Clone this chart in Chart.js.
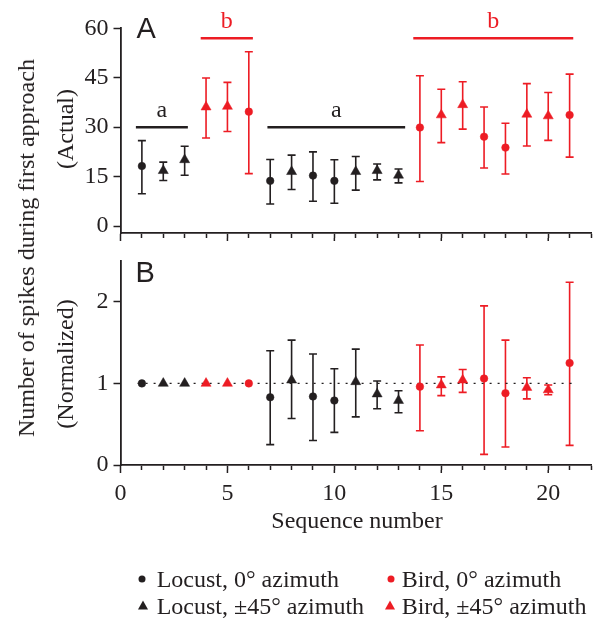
<!DOCTYPE html>
<html>
<head>
<meta charset="utf-8">
<script src="https://cdn.jsdelivr.net/npm/chart.js@4.4.0/dist/chart.umd.min.js"></script>
<style>
body{margin:0;background:#fff;}
#wrap{position:relative;width:600px;height:619px;overflow:hidden;font-family:"Liberation Serif","Times New Roman",serif;color:#231f20;}
canvas{position:absolute;left:0;}
.t{position:absolute;font-size:24px;line-height:24px;white-space:nowrap;}
.mid{transform:translate(-50%,-50%);}
.rot{transform:translate(-50%,-50%) rotate(-90deg);}
.panel{position:absolute;font-family:"Liberation Sans",Arial,sans-serif;font-size:29px;line-height:29px;}
.dot{position:absolute;width:7px;height:7px;border-radius:50%;transform:translate(-50%,-50%);}
.tri{position:absolute;width:0;height:0;border-left:5px solid transparent;border-right:5px solid transparent;border-bottom:9px solid;transform:translate(-50%,-50%);}
</style>
</head>
<body>
<div id="wrap">
  <canvas id="chartA" width="600" height="262" style="top:0"></canvas>
  <canvas id="chartB" width="600" height="300" style="top:240px"></canvas>

  <div class="t rot" style="left:25.8px;top:248.4px">Number of spikes during first approach</div>
  <div class="t rot" style="left:64.6px;top:129px">(Actual)</div>
  <div class="t rot" style="left:64.6px;top:364px">(Normalized)</div>
  <div class="t mid" style="left:357px;top:519.5px">Sequence number</div>
  <div class="panel" style="left:136.5px;top:13.8px">A</div>
  <div class="panel" style="left:135.5px;top:257.8px">B</div>

  <div class="dot" style="left:142.3px;top:578.5px;background:#231f20"></div>
  <div class="t" style="left:156.7px;top:566.6px">Locust, 0° azimuth</div>
  <div class="tri" style="left:143px;top:605px;border-bottom-color:#231f20"></div>
  <div class="t" style="left:156.7px;top:594.2px">Locust, ±45° azimuth</div>
  <div class="dot" style="left:390.7px;top:578.5px;background:#ed1c24"></div>
  <div class="t" style="left:401.7px;top:566.6px">Bird, 0° azimuth</div>
  <div class="tri" style="left:390px;top:605px;border-bottom-color:#ed1c24"></div>
  <div class="t" style="left:401.7px;top:594.2px">Bird, ±45° azimuth</div>
</div>
<script>
// data
const seq = [1,2,3,4,5,6,7,8,9,10,11,12,13,14,15,16,17,18,19,20,21];
const group = ['L0','L45','L45','B45','B45','B0','L0','L45','L0','L0','L45','L45','L45','B0','B45','B45','B0','B0','B45','B45','B0'];

const actualMean = [18.2,16.8,20.1,36.1,36.3,34.7,13.7,16.5,15.3,13.7,16.5,16.8,15.4,29.9,33.7,36.8,27.1,23.8,33.9,33.4,33.7];
const actualLow  = [9.8,13.8,15.4,26.7,28.7,15.9,6.7,11.1,7.5,6.9,10.9,14.0,13.1,13.5,25.3,29.4,17.6,15.8,24.3,26.0,20.9];
const actualHigh = [25.9,19.4,24.2,44.9,43.6,52.9,20.2,21.5,22.5,20.1,21.1,18.8,17.3,45.6,41.5,43.8,36.1,31.2,43.2,40.5,46.1];

const normMean = [1,1,1,1,1,1,0.83,1.04,0.84,0.79,1.02,0.87,0.79,0.96,0.98,1.04,1.06,0.88,0.95,0.92,1.25];
const normLow  = [1,1,1,1,1,1,0.25,0.57,0.30,0.40,0.59,0.69,0.64,0.42,0.85,0.89,0.13,0.22,0.81,0.86,0.24];
const normHigh = [1,1,1,1,1,1,1.40,1.53,1.36,1.18,1.42,1.03,0.91,1.47,1.08,1.17,1.95,1.53,1.07,0.98,2.24];

const groupKeys = ['L0','L45','B0','B45'];
const groupNames = ['Locust, 0° azimuth','Locust, ±45° azimuth','Bird, 0° azimuth','Bird, ±45° azimuth'];

// significance brackets in panel A
const bracketFrom  = [0.72, 3.75, 6.87, 13.69];
const bracketTo    = [3.15, 6.19, 13.31, 21.17];
const bracketLevel = [30, 57, 30, 57];
const bracketText  = ['a','b','a','b'];

const yTicksA = [0,15,30,45,60];
const yTicksB = [0,1,2];
const xTickLabels = [0,5,10,15,20];
const refLevel = 1, refFrom = 0.8, refTo = 21.3;

const ink = '#231f20';
const red = '#ed1c24';
const serif = 'Liberation Serif';
const xTicks = [];
for (let i = 0; i <= 22; i++) xTicks.push(i);

function colorOf(g){ return g[0] === 'B' ? red : ink; }
function styleOf(g){ return g.endsWith('45') ? 'triangle' : 'circle'; }

function groupSets(mean, low, high){
  return groupKeys.map((g, k) => ({
    label: groupNames[k],
    err: true,
    data: seq.map((s, i) => ({x: s, y: mean[i], lo: low[i], hi: high[i], g: group[i]})).filter(p => p.g === g),
    pointStyle: styleOf(g),
    pointRadius: styleOf(g) === 'triangle' ? 5.8 : 3.8,
    pointBorderWidth: 0.5,
    backgroundColor: colorOf(g),
    borderColor: colorOf(g),
    clip: false
  }));
}

const errorBars = {
  id: 'errorBars',
  beforeDatasetsDraw(chart){
    const {ctx, scales: {x, y}} = chart;
    chart.data.datasets.forEach(ds => {
      if (!ds.err) return;
      ctx.save();
      ctx.strokeStyle = ds.borderColor;
      ctx.lineWidth = 1.6;
      ds.data.forEach(p => {
        if (p.hi === p.lo) return;
        const px = x.getPixelForValue(p.x);
        const top = y.getPixelForValue(p.hi), bot = y.getPixelForValue(p.lo);
        ctx.beginPath();
        ctx.moveTo(px, top); ctx.lineTo(px, bot);
        ctx.moveTo(px - 4, top); ctx.lineTo(px + 4, top);
        ctx.moveTo(px - 4, bot); ctx.lineTo(px + 4, bot);
        ctx.stroke();
      });
      ctx.restore();
    });
  }
};

// longer tick marks at 0, 5, 10 ...
const majorTicks = {
  id: 'majorTicks',
  afterDraw(chart){
    const {ctx, scales: {x}} = chart;
    ctx.save();
    ctx.strokeStyle = ink;
    ctx.lineWidth = 1.5;
    xTickLabels.forEach(v => {
      const px = x.getPixelForValue(v);
      ctx.beginPath();
      ctx.moveTo(px, x.top + 5); ctx.lineTo(px, x.top + 8);
      ctx.stroke();
    });
    ctx.restore();
  }
};

const bracketLabels = {
  id: 'bracketLabels',
  afterDatasetsDraw(chart){
    const {ctx, scales: {x, y}} = chart;
    ctx.save();
    ctx.font = '24px "' + serif + '"';
    ctx.textAlign = 'center';
    ctx.textBaseline = 'alphabetic';
    bracketText.forEach((t, i) => {
      ctx.fillStyle = t === 'b' ? red : ink;
      const cx = x.getPixelForValue((bracketFrom[i] + bracketTo[i]) / 2);
      ctx.fillText(t, cx, y.getPixelForValue(bracketLevel[i]) - 10);
    });
    ctx.restore();
  }
};

function scales(yMin, yMax, yTicks, xHeight, showX){
  return {
    x: {
      type: 'linear', min: 0, max: 22,
      afterBuildTicks: s => { s.ticks = xTicks.map(v => ({value: v})); },
      afterFit: s => { s.height = xHeight; },
      grid: {drawOnChartArea: false, drawTicks: true, tickLength: 5, tickColor: ink, tickWidth: 1.5},
      border: {color: ink, width: 1.8},
      ticks: {autoSkip: false, maxRotation: 0, padding: 9, color: ink, font: {family: serif, size: 24},
        callback: v => (showX && xTickLabels.includes(v)) ? String(v) : ''}
    },
    y: {
      type: 'linear', min: yMin, max: yMax,
      afterBuildTicks: s => { s.ticks = yTicks.map(v => ({value: v})); },
      afterFit: s => { s.width = 120.5; },
      grid: {drawOnChartArea: false, drawTicks: true, tickLength: 7, tickColor: ink, tickWidth: 1.5},
      border: {color: ink, width: 1.8},
      ticks: {padding: 5, color: ink, font: {family: serif, size: 24}}
    }
  };
}

const common = {
  responsive: false,
  animation: false,
  events: [],
  plugins: {legend: {display: false}, tooltip: {enabled: false}}
};

function draw(){
  // panel A
  const setsA = groupSets(actualMean, actualLow, actualHigh);
  bracketFrom.forEach((f, i) => {
    setsA.push({
      type: 'line',
      data: [{x: f, y: bracketLevel[i]}, {x: bracketTo[i], y: bracketLevel[i]}],
      borderColor: bracketText[i] === 'b' ? red : ink,
      borderWidth: 2.5,
      pointRadius: 0,
      showLine: true,
      clip: false
    });
  });
  new Chart(document.getElementById('chartA'), {
    type: 'scatter',
    data: {datasets: setsA},
    options: Object.assign({}, common, {
      layout: {padding: {top: 28.3, right: 3.6, bottom: 0, left: 0}},
      scales: scales(-2.12, 60, yTicksA, 29, false)
    }),
    plugins: [errorBars, majorTicks, bracketLabels]
  });

  // panel B
  const setsB = groupSets(normMean, normLow, normHigh);
  setsB.push({
    type: 'line',
    data: [{x: refFrom, y: refLevel}, {x: refTo, y: refLevel}],
    borderColor: ink,
    borderWidth: 1.3,
    borderDash: [2, 6],
    pointRadius: 0,
    showLine: true
  });
  new Chart(document.getElementById('chartB'), {
    type: 'scatter',
    data: {datasets: setsB},
    options: Object.assign({}, common, {
      layout: {padding: {top: 21, right: 3.6, bottom: 0, left: 0}},
      scales: scales(0, 2.5, yTicksB, 75, true)
    }),
    plugins: [errorBars, majorTicks]
  });
}

document.fonts.load('24px "' + serif + '"').then(draw, draw);
</script>
</body>
</html>
